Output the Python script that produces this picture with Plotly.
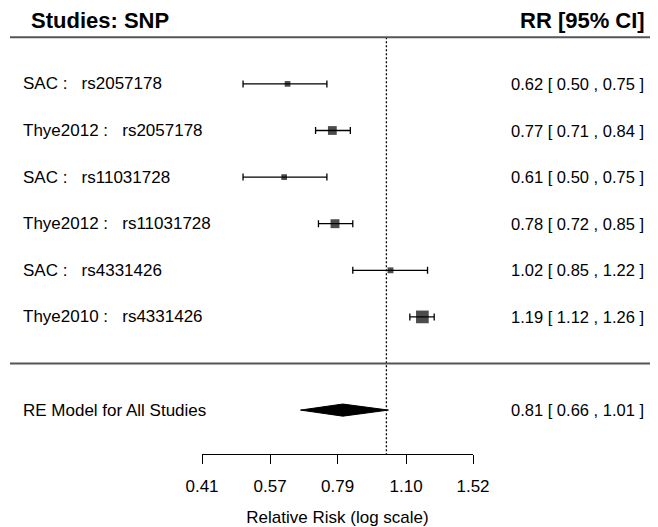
import numpy as np
import plotly.graph_objects as go

# ---- data ----
studies = ["SAC", "Thye2012", "SAC", "Thye2012", "SAC", "Thye2010"]
snps = ["rs2057178", "rs2057178", "rs11031728", "rs11031728", "rs4331426", "rs4331426"]
rr = [0.62, 0.77, 0.61, 0.78, 1.02, 1.19]
rr_lo = [0.50, 0.71, 0.50, 0.72, 0.85, 1.12]
rr_hi = [0.75, 0.84, 0.75, 0.85, 1.22, 1.26]

re_label = "RE Model for All Studies"
re_rr = 0.81
re_lo = 0.66
re_hi = 1.01

tick_vals = [0.41, 0.57, 0.79, 1.10, 1.52]
tick_text = ["0.41", "0.57", "0.79", "1.10", "1.52"]

header_left = "Studies: SNP"
header_right = "RR [95% CI]"
x_title = "Relative Risk (log scale)"

# ---- layout helpers ----
# the page body adds an 8px margin, so the figure is sized/positioned to fit the window
OFF = 8
W, H = 658 - OFF, 527 - OFF
FONT = "Liberation Sans, Arial, Helvetica, sans-serif"


def px(xw):
    """window x pixel -> paper x"""
    return (xw - OFF) / W


k = len(rr)
ys = list(range(k, 0, -1))          # rows k..1 (metafor style)
y_re = -1

# marker size from inverse-variance weights (metafor-like psize scaling)
lo_arr, hi_arr = np.array(rr_lo), np.array(rr_hi)
se = (np.log(hi_arr) - np.log(lo_arr)) / 3.92
wi = 1 / se**2
ps = wi / wi.sum()
ps = (ps - ps.min()) / (ps.max() - ps.min()) + 0.5
msize = 7.0 * ps + 2.2

fig = go.Figure()

# reference line at RR = 1
fig.add_trace(go.Scatter(
    x=[1, 1], y=[k + 1, -1.96], mode="lines",
    line=dict(color="black", width=1.3, dash="2px,2px"),
    hoverinfo="skip", showlegend=False))

# study estimates with CIs
fig.add_trace(go.Scatter(
    x=rr, y=ys, mode="markers",
    marker=dict(symbol="square", size=msize, color="black", line=dict(width=0)),
    error_x=dict(type="data", symmetric=False,
                 array=[h - r for h, r in zip(rr_hi, rr)],
                 arrayminus=[r - l for r, l in zip(rr, rr_lo)],
                 color="black", thickness=1.3, width=3.5),
    showlegend=False))

# summary diamond
dh = 0.13
fig.add_trace(go.Scatter(
    x=[re_lo, re_rr, re_hi, re_rr, re_lo],
    y=[y_re, y_re + dh, y_re, y_re - dh, y_re],
    mode="lines", fill="toself", fillcolor="black",
    line=dict(color="black", width=1), showlegend=False, hoverinfo="skip"))

SEP = "\u00a0:\u00a0\u00a0\u00a0"
ROWF = dict(size=17, family=FONT, color="black")
NUMF = dict(size=16.5, family=FONT, color="black")
HDRF = dict(size=22, family=FONT, color="black")

ann = []
for s, n, y in zip(studies, snps, ys):
    ann.append(dict(x=px(21), y=y, xref="paper", yref="y", text=f"{s}{SEP}{n}",
                    xanchor="left", yanchor="middle", showarrow=False, font=ROWF))
for r, l, h, y in zip(rr, rr_lo, rr_hi, ys):
    ann.append(dict(x=px(646), y=y, xref="paper", yref="y",
                    text=f"{r:.2f} [ {l:.2f} , {h:.2f} ]",
                    xanchor="right", yanchor="middle", showarrow=False, font=NUMF))
ann.append(dict(x=px(21), y=y_re, xref="paper", yref="y", text=re_label,
                xanchor="left", yanchor="middle", showarrow=False, font=ROWF))
ann.append(dict(x=px(646), y=y_re, xref="paper", yref="y",
                text=f"{re_rr:.2f} [ {re_lo:.2f} , {re_hi:.2f} ]",
                xanchor="right", yanchor="middle", showarrow=False, font=NUMF))
ann.append(dict(x=px(29), y=k + 1.35, xref="paper", yref="y", text=f"<b>{header_left}</b>",
                xanchor="left", yanchor="middle", showarrow=False, font=HDRF))
ann.append(dict(x=px(647), y=k + 1.35, xref="paper", yref="y", text=f"<b>{header_right}</b>",
                xanchor="right", yanchor="middle", showarrow=False, font=HDRF))

shapes = [
    dict(type="line", xref="paper", yref="y", x0=px(10), x1=1, y0=k + 1, y1=k + 1,
         line=dict(color="#555", width=2)),
    dict(type="line", xref="paper", yref="y", x0=px(10), x1=1, y0=0, y1=0,
         line=dict(color="#555", width=2)),
]

c_px, d_px = 363.5 - OFF, 46.6   # figure pixel of y=0, pixels per row
axis_px = 454 - OFF
fig.update_layout(
    width=W, height=H, margin=dict(l=0, r=0, t=0, b=0, pad=0, autoexpand=False),
    autosize=False, showlegend=False,
    paper_bgcolor="white", plot_bgcolor="white",
    annotations=ann, shapes=shapes,
    font=dict(family=FONT, color="black"),
    xaxis=dict(type="log", domain=[px(202), px(473)],
               range=[np.log10(tick_vals[0]), np.log10(tick_vals[-1])],
               tickvals=tick_vals, ticktext=tick_text,
               ticks="outside", ticklen=9, tickwidth=1.3, tickcolor="black",
               ticklabelstandoff=7,
               showline=True, linecolor="black", linewidth=1.3,
               showgrid=False, zeroline=False, automargin=False,
               tickfont=dict(size=17, family=FONT, color="black"),
               anchor="free", position=(H - axis_px) / H,
               title=dict(text=x_title, font=dict(size=17, family=FONT, color="black"),
                          standoff=16)),
    yaxis=dict(visible=False, range=[(c_px - H) / d_px, c_px / d_px], domain=[0, 1],
               automargin=False),
)

fig.write_html("out.html")
